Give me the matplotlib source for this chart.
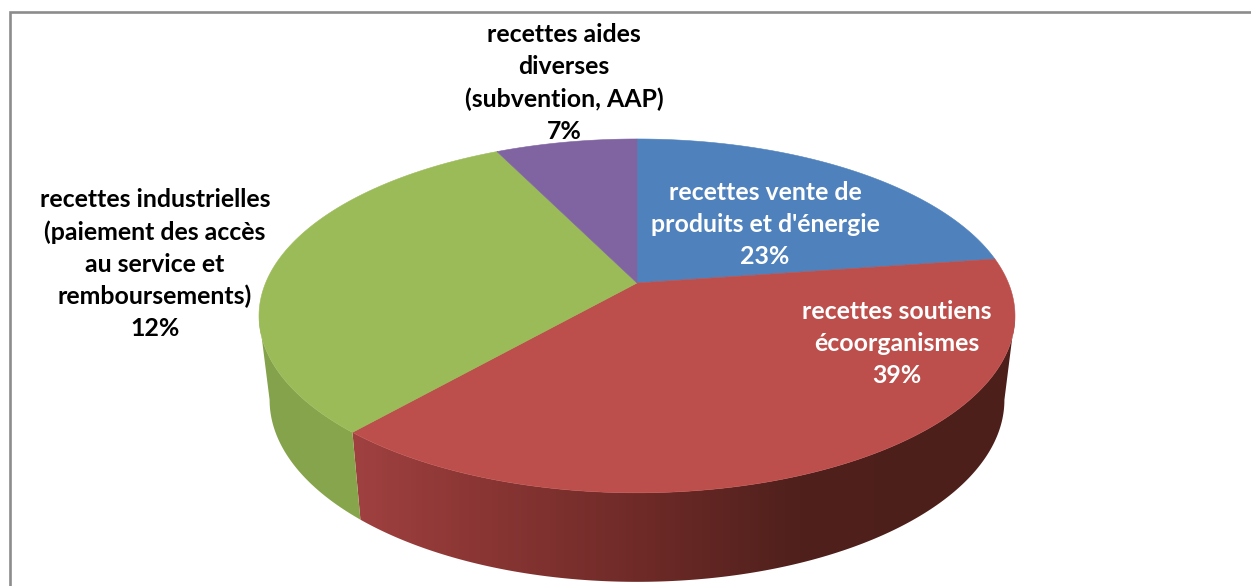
import numpy as np
import matplotlib
matplotlib.use("Agg")
import matplotlib.pyplot as plt
from matplotlib.patches import Polygon
from matplotlib.colors import to_rgb

categories = ["recettes vente de\nproduits et d'énergie",
              "recettes soutiens\nécoorganismes",
              "recettes industrielles\n(paiement des accès\nau service et\nremboursements)",
              "recettes aides\ndiverses\n(subvention, AAP)"]
slice_values = [22.7, 38.75, 31.3, 7.25]
printed_labels = ["23%", "39%", "12%", "7%"]
top_colors = ["#4F81BD", "#BC4F4C", "#9BBB59", "#8064A2"]
label_colors = ["white", "white", "black", "black"]
label_xy = [(765, 224.5), (897, 343.5), (155, 264), (564, 83)]

W, H = 1251, 586
fig = plt.figure(figsize=(W / 100, H / 100), dpi=100, facecolor="white")
ax = fig.add_axes([0, 0, 1, 1])
ax.set_xlim(0, W)
ax.set_ylim(H, 0)
ax.axis("off")

CX = 637.0
K = 0.186


def top_disc(t):
    w = 1 + K * np.sin(t)
    return np.column_stack([CX + 371.4 * np.cos(t) / w, 283 - 170.8 * np.sin(t) / w])


def low_disc(t):
    w = 1 + K * np.sin(t)
    return np.column_stack([CX + 361.0 * np.cos(t) / w, 366 - 175.7 * np.sin(t) / w])


def ramp_image(stops):
    xs = [s[0] for s in stops]
    cols = np.array([to_rgb(s[1]) for s in stops])
    grid = np.arange(0, W + 1)
    return np.column_stack([np.interp(grid, xs, cols[:, i]) for i in range(3)])[None, :, :]


wall_ramps = {
    1: [(352, "#A04140"), (480, "#8A3634"), (660, "#6B2926"), (800, "#4F201C"), (1020, "#4C1F1B")],
    2: [(260, "#84A24B"), (360, "#88A74D")],
}

angles = np.deg2rad(90 - np.cumsum([0] + slice_values) * 3.6)
starts, ends = angles[:-1], angles[1:]
tangent = np.arcsin(K)  # angle where the disc silhouette is vertical
wall_spans = {1: (-tangent, ends[1]),
              2: (starts[2], -np.pi + tangent)}

# side wall, drawn before the top face
for i, (a, b) in wall_spans.items():
    th = np.linspace(a, b, 300)
    outline = np.vstack([top_disc(th), low_disc(th)[::-1]])
    im = ax.imshow(ramp_image(wall_ramps[i]), extent=(0, W + 1, H, 0), aspect="auto",
                   interpolation="bilinear", zorder=2)
    clip = Polygon(outline, closed=True, transform=ax.transData, facecolor="none", edgecolor="none")
    ax.add_patch(clip)
    im.set_clip_path(clip)
ax.set_xlim(0, W)
ax.set_ylim(H, 0)

# top face
for s, e, c in zip(starts, ends, top_colors):
    th = np.linspace(s, e, 240)
    pts = np.vstack([[CX, 283], top_disc(th)])
    ax.add_patch(Polygon(pts, closed=True, facecolor=c, edgecolor=c, linewidth=0.4, zorder=3))

# frame
ax.plot([9.5, 9.5, W], [H, 11.5, 11.5], color="#8C8C8C", lw=1.9, solid_joinstyle="miter", zorder=1)

for name, pct, col, (x, y) in zip(categories, printed_labels, label_colors, label_xy):
    ax.text(x, y, f"{name}\n{pct}", color=col, ha="center", va="center", family="Lato",
            fontweight="bold", fontsize=17.9, linespacing=1.47, zorder=5)

fig.savefig("out.png", dpi=100, facecolor="white")
